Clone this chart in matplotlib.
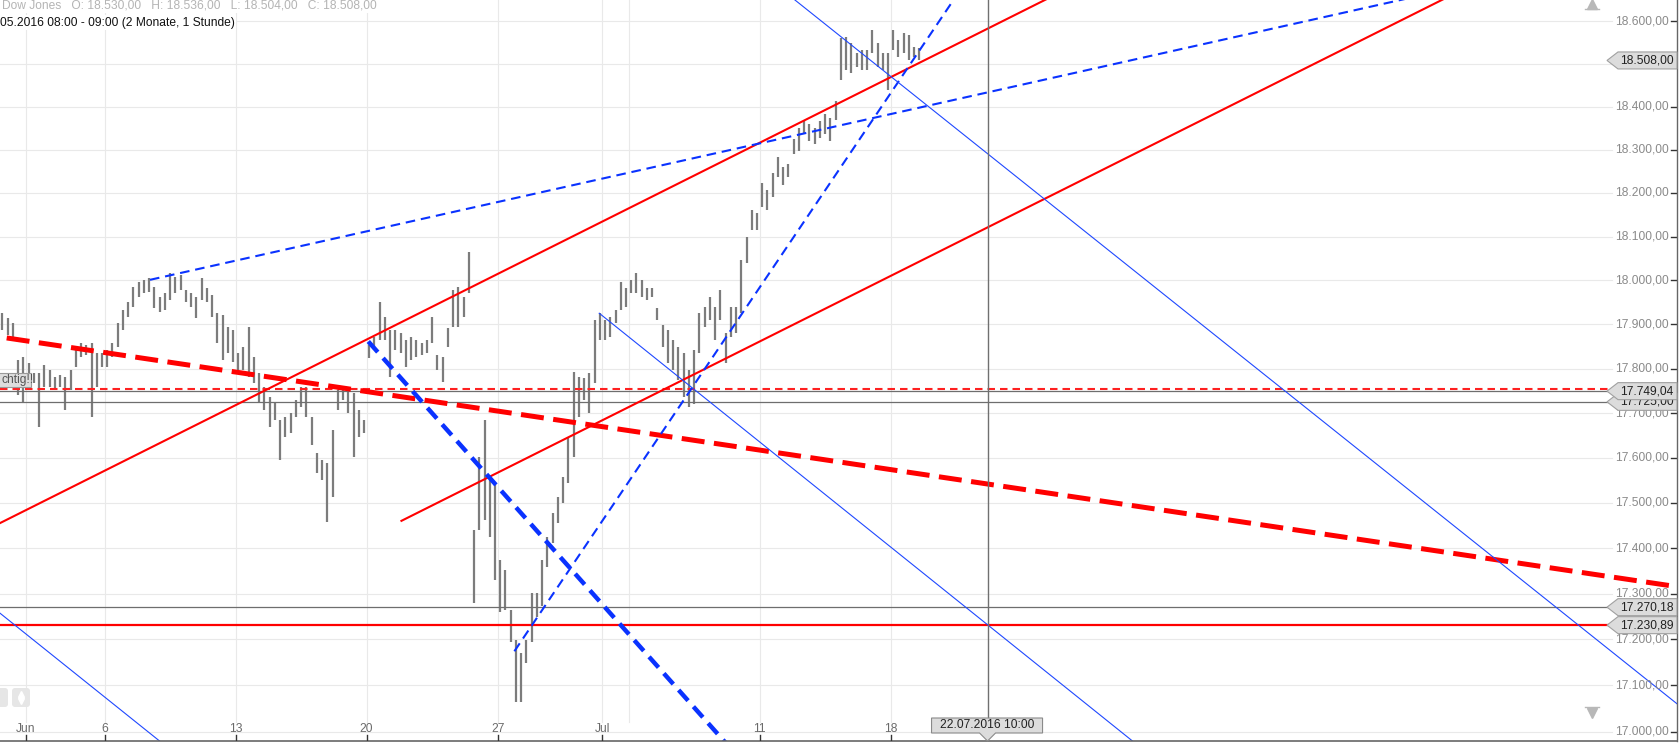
import numpy as np
import matplotlib
matplotlib.use("Agg")
import matplotlib.pyplot as plt
from matplotlib.patches import Polygon, FancyBboxPatch
from matplotlib.transforms import IdentityTransform, blended_transform_factory

# Dow Jones, hourly bars (5 samples per trading day)
# first sample belongs to 31.05.2016, x = trading day index (01.06. = 0)
first_day = -1
bars_per_day = 5
bar_high = [
    17926, 17914, 17903, 17820, 17827,
    17813, 17790, 17790, 17808, 17797,
    17781, 17786, 17781, 17797, 17842,
    17858, 17854, 17858, 17836, 17836,
    17842, 17858, 17903, 17933, 17951,
    17985, 17997, 18001, 18006, 17985,
    17962, 17971, 18017, 18008, 18012,
    17978, 17971, 17962, 18006, 17983,
    17966, 17926, 17921, 17894, 17887,
    17836, 17849, 17894, 17827, 17790,
    17758, 17736, 17722, 17685, 17691,
    17700, 17729, 17758, 17758, 17691,
    17611, 17595, 17589, 17662, 17751,
    17758, 17751, 17745, 17707, 17685,
    17854, 17872, 17951, 17917, 17887,
    17887, 17881, 17865, 17872, 17865,
    17858, 17865, 17917, 17831, 17827,
    17892, 17978, 17985, 17962, 18064,
    17440, 17602, 17685, 17557, 17544,
    17374, 17352, 17265, 17199, 17171,
    17199, 17301, 17301, 17374, 17425,
    17477, 17513, 17557, 17647, 17792,
    17781, 17779, 17790, 17910, 17926,
    17910, 17917, 17933, 17997, 17983,
    18001, 18017, 18001, 17983, 17983,
    17937, 17899, 17887, 17865, 17849,
    17836, 17797, 17842, 17926, 17940,
    17962, 17940, 17978, 17881, 17940,
    17940, 18046, 18099, 18161, 18154,
    18222, 18207, 18245, 18282, 18259,
    18268, 18325, 18350, 18367, 18360,
    18350, 18367, 18383, 18374, 18414,
    18560, 18563, 18549, 18525, 18532,
    18532, 18580, 18549, 18525, 18525,
    18580, 18556, 18572, 18567, 18540,
    18537,
]
bar_low = [
    17887, 17876, 17865, 17740, 17722,
    17767, 17767, 17669, 17758, 17758,
    17751, 17758, 17707, 17751, 17804,
    17827, 17831, 17691, 17758, 17804,
    17804, 17827, 17849, 17887, 17917,
    17940, 17963, 17972, 17974, 17937,
    17928, 17933, 17955, 17971, 17978,
    17951, 17940, 17914, 17955, 17951,
    17917, 17858, 17820, 17836, 17815,
    17797, 17797, 17781, 17767, 17722,
    17707, 17669, 17685, 17595, 17647,
    17656, 17691, 17713, 17691, 17629,
    17566, 17551, 17458, 17513, 17707,
    17729, 17700, 17602, 17647, 17656,
    17824, 17842, 17865, 17865, 17781,
    17842, 17836, 17804, 17820, 17827,
    17831, 17836, 17858, 17797, 17770,
    17849, 17894, 17894, 17917, 17971,
    17280, 17440, 17462, 17425, 17330,
    17259, 17265, 17194, 17063, 17063,
    17149, 17194, 17249, 17272, 17359,
    17411, 17455, 17500, 17544, 17602,
    17691, 17729, 17700, 17767, 17865,
    17865, 17872, 17903, 17933, 17940,
    17971, 17971, 17962, 17955, 17962,
    17910, 17849, 17813, 17797, 17774,
    17736, 17713, 17720, 17836, 17894,
    17910, 17865, 17910, 17813, 17872,
    17881, 17926, 18040, 18115, 18115,
    18168, 18161, 18191, 18236, 18218,
    18236, 18291, 18298, 18337, 18321,
    18314, 18328, 18337, 18321, 18369,
    18462, 18486, 18479, 18493, 18486,
    18486, 18525, 18493, 18486, 18439,
    18532, 18516, 18525, 18509, 18516,
    18509,
]

# x axis: trading day index -> label
tick_days = [0, 3, 8, 13, 18, 22, 28, 33]
tick_labels = ["Jun", "6", "13", "20", "27", "Jul", "11", "18"]
grid_days = [0, 3, 8, 13, 18, 22, 23, 28, 33]
cursor_day = 36.7
cursor_label = "22.07.2016 10:00"

y_ticks = list(range(17000, 18601, 100))
hidden_ticks = [18500]  # covered by the last-price box

# drawn trend lines (day, price) -> (day, price)
red_upper = [(-0.992, 17455), (42.71, 18769)]
red_lower = [(14.33, 17460), (57.86, 18769)]
red_thick_dashed = [(-0.737, 17869), (63.02, 17315)]
blue_dashed_flat = [(4.733, 18001), (63.02, 18797)]
blue_dashed_steep = [(18.64, 17174), (36.69, 18769)]
blue_thick_dashed = [(13.065, 17861), (28.64, 16854)]
blue_thin_1 = [(26.95, 18769), (63.02, 17060)]
blue_thin_2 = [(21.88, 17925), (45.03, 16854)]
blue_thin_3 = [(-0.992, 17257), (7.9, 16854)]

# horizontal lines
wichtig_level = 17754
wichtig_text = "chtig!!"  # visible part of the left-hand label
gray_levels = [17749.04, 17725.00, 17270.18]
red_level = 17230.89
last_price = 18508.00

header_1 = "Dow Jones   O: 18.530,00   H: 18.536,00   L: 18.504,00   C: 18.508,00"
header_2 = "05.2016 08:00 - 09:00 (2 Monate, 1 Stunde)"


def de_fmt(v):
    s = f"{v:,.2f}"
    return s.replace(",", "X").replace(".", ",").replace("X", ".")


plt.rcParams["font.family"] = ["Liberation Sans", "DejaVu Sans"]
FS = 8.64  # 12 px

W, H = 1681, 743
fig = plt.figure(figsize=(W / 100, H / 100), dpi=100)
ax = fig.add_axes([0, 2 / H, 1677 / W, 741 / H])
ax.set_yscale("log")
ax.set_xlim(-0.9924, 63.015)
ax.set_ylim(16980, 18650.2)
ax.axis("off")

xa_yd = blended_transform_factory(ax.transAxes, ax.transData)
xd_ya = blended_transform_factory(ax.transData, ax.transAxes)
ident = IdentityTransform()

# grid
for v in y_ticks:
    ax.plot([0, 0.9612], [v, v], transform=xa_yd, color="#e9e9e9", lw=0.8, zorder=0)
for d in grid_days:
    ax.plot([d, d], [0.026, 1], transform=xd_ya, color="#e9e9e9", lw=0.8, zorder=0)

# bars
bx = first_day + (np.arange(len(bar_high)) + 0.5) / bars_per_day
ax.vlines(bx, bar_low, bar_high, colors="#7c7c7c", lw=1.6, zorder=2)

# horizontal lines
for v in gray_levels:
    ax.axhline(v, color="#6e6e6e", lw=0.9, zorder=3)
ax.axhline(red_level, color="#ff0000", lw=1.6, zorder=4)
ax.axhline(wichtig_level, color="#ff2020", lw=1.5, ls=(0, (3.6, 2.4)), zorder=4)


def seg(pts, **kw):
    xs = [p[0] for p in pts]
    ys = [p[1] for p in pts]
    ax.plot(xs, ys, **kw)


seg(red_upper, color="#ff0000", lw=1.5, zorder=5)
seg(red_lower, color="#ff0000", lw=1.5, zorder=5)
seg(red_thick_dashed, color="#ff0000", lw=3.6, ls=(0, (4.6, 1.9)), zorder=5)
seg(blue_dashed_flat, color="#0a32ff", lw=1.5, ls=(0, (4.6, 2.8)), zorder=5)
seg(blue_dashed_steep, color="#0a32ff", lw=1.5, ls=(0, (4.6, 2.8)), zorder=5)
seg(blue_thick_dashed, color="#0a32ff", lw=3.2, ls=(0, (3.2, 1.8)), zorder=5)
for ln in (blue_thin_1, blue_thin_2, blue_thin_3):
    seg(ln, color="#1f48ff", lw=0.8, zorder=5)

# cursor
ax.plot([cursor_day, cursor_day], [0.031, 1], transform=xd_ya, color="#707070", lw=1, zorder=6)

# axis borders
ax.plot([1, 1], [0, 1], transform=ax.transAxes, color="#666666", lw=1, clip_on=False, zorder=7)
ax.plot([0, 1], [0, 0], transform=ax.transAxes, color="#666666", lw=1.2, clip_on=False, zorder=7)

# y tick labels
for v in y_ticks:
    if v not in hidden_ticks:
        ax.text(0.99523, v, de_fmt(v), transform=xa_yd, ha="right", va="center",
                color="#8a8a8a", fontsize=FS, zorder=6)
    ax.plot([0.9964, 0.9994], [v, v], transform=xa_yd, color="#333333", lw=1,
            clip_on=False, zorder=6)

# x tick labels
for d, lab in zip(tick_days, tick_labels):
    ax.text(d, 0.0162, lab, transform=xd_ya, ha="center", va="center",
            color="#6a6a6a", fontsize=FS, zorder=6)
    ax.plot([d, d], [0, 0.0081], transform=xd_ya, color="#333333", lw=1, zorder=7)

fig.canvas.draw()


def value_box(v, text, z):
    _, yd = ax.transData.transform((0, v))
    h = 8.5
    poly = Polygon([(1607, yd), (1618, yd + h), (1677, yd + h), (1677, yd - h), (1618, yd - h)],
                   closed=True, transform=ident, fc="#dcdcdc", ec="#a0a0a0", lw=0.8,
                   zorder=z, clip_on=False)
    ax.add_patch(poly)
    ax.text(1647, yd, text, transform=ident, ha="center", va="center",
            color="#222222", fontsize=FS, zorder=z + 0.1)


value_box(last_price, de_fmt(last_price), 8)
value_box(gray_levels[1], de_fmt(gray_levels[1]), 8)
value_box(gray_levels[0], de_fmt(gray_levels[0]), 8.5)
value_box(gray_levels[2], de_fmt(gray_levels[2]), 8)
value_box(red_level, de_fmt(red_level), 8)

# cursor date box
cx, _ = ax.transData.transform((cursor_day, 17500))
ax.add_patch(Polygon([(cx - 56, 25), (cx + 55, 25), (cx + 55, 10), (cx + 8, 10), (cx, 2),
                      (cx - 8, 10), (cx - 56, 10)], closed=True, transform=ident,
                     fc="#dcdcdc", ec="#8a8a8a", lw=0.8, zorder=9, clip_on=False))
ax.text(cx, 17.5, cursor_label, transform=ident, ha="center", va="center",
        color="#222222", fontsize=FS, zorder=9.1)

# label of the dashed line at the left
ax.add_patch(Polygon([(-2, H - 373), (31, H - 373), (31, H - 387), (-2, H - 387)], closed=True,
                     transform=ident, fc="#dddddd", ec="#9a9a9a", lw=0.8, zorder=8, clip_on=False))
ax.text(1, H - 380, wichtig_text, transform=ident, ha="left", va="center",
        color="#555555", fontsize=FS, zorder=8.1)

# scroll buttons
for x0 in (-10, 12):
    ax.add_patch(FancyBboxPatch((x0, H - 707), 18, 19, boxstyle="round,pad=0,rounding_size=3",
                                transform=ident, fc="#e6e6e6", ec="none", zorder=8, clip_on=False))
ax.plot([21], [H - 694], marker="^", ms=5, color="white", transform=ident, clip_on=False, zorder=9)
ax.plot([21], [H - 701], marker="v", ms=5, color="white", transform=ident, clip_on=False, zorder=9)
ax.plot([1592], [H - 4], marker="^", ms=7, color="#b8b8b8", transform=ident, clip_on=False, zorder=9)
ax.plot([1585, 1599], [H - 9, H - 9], color="#b8b8b8", lw=1, transform=ident, clip_on=False, zorder=9)
ax.plot([1592], [H - 713], marker="v", ms=7, color="#b8b8b8", transform=ident, clip_on=False, zorder=9)
ax.plot([1585, 1599], [H - 707, H - 707], color="#b8b8b8", lw=1, transform=ident, clip_on=False, zorder=9)

# header
fig.text(2 / W, 1 - 5.3 / H, header_1, ha="left", va="center", color="#b4b4b4", fontsize=FS,
         bbox=dict(fc="white", ec="none", pad=1))
fig.text(0, 1 - 22.7 / H, header_2, ha="left", va="center", color="#111111", fontsize=FS,
         bbox=dict(fc="white", ec="none", pad=1))

fig.savefig("out.png", dpi=100)
